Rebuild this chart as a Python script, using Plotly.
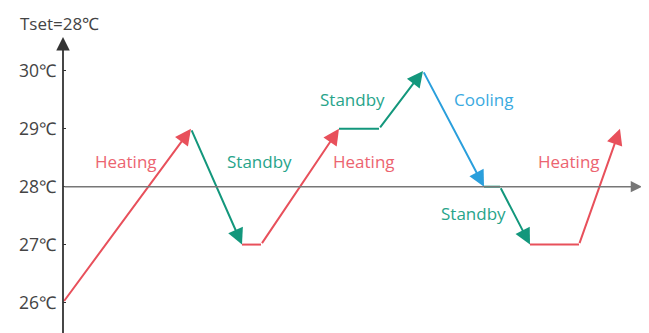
import plotly.graph_objects as go

# time (arbitrary units) and room temperature at each turning point
times = [0, 12.8, 17.9, 19.8, 27.6, 31.6, 36.0, 42.1, 43.7, 46.7, 51.6, 55.7]
temps = [26, 29, 27, 27, 29, 29, 30, 28, 28, 27, 27, 29]
# mode of each segment between consecutive points, and whether it ends in an arrow
modes = ['Heating', 'Standby', 'Heating', 'Heating', 'Standby', 'Standby',
         'Cooling', 'Standby', 'Standby', 'Heating', 'Heating']
has_arrow = [1, 1, 0, 1, 0, 1, 1, 0, 1, 0, 1]

tick_vals = [26, 27, 28, 29, 30]
tick_text = ['26℃', '27℃', '28℃', '29℃', '30℃']
t_set = 28

label_text = ['Heating', 'Standby', 'Heating', 'Standby', 'Cooling', 'Standby', 'Heating']
label_x = [6.3, 19.6, 30.1, 28.9, 42.0, 41.0, 50.6]
label_y = [28.44, 28.44, 28.44, 29.51, 29.51, 27.53, 28.44]

line_col = {'Heating': '#E8505B', 'Standby': '#13977C', 'Cooling': '#2A9FDC'}
text_col = {'Heating': '#EC6470', 'Standby': '#27A48A', 'Cooling': '#3AAADF'}
FONT = 'Open Sans'

fig = go.Figure()
annotations = []

# flat segments as lines, sloped ones as arrows
for i, m in enumerate(modes):
    x0, x1 = times[i], times[i + 1]
    y0, y1 = temps[i], temps[i + 1]
    if has_arrow[i]:
        annotations.append(dict(x=x1, y=y1, ax=x0, ay=y0, xref='x', yref='y',
                                axref='x', ayref='y', showarrow=True, text='',
                                arrowhead=2, arrowsize=1.6, arrowwidth=2,
                                arrowcolor=line_col[m], standoff=0))
    else:
        fig.add_trace(go.Scatter(x=[x0, x1], y=[y0, y1], mode='lines',
                                 line=dict(color=line_col[m], width=2),
                                 hoverinfo='skip', showlegend=False))

# axes drawn as arrows
annotations.append(dict(x=0, y=30.585, ax=0, ay=25.3, xref='x', yref='y',
                        axref='x', ayref='y', showarrow=True, text='',
                        arrowhead=2, arrowsize=1.5, arrowwidth=1.8,
                        arrowcolor='#333333', standoff=0))
annotations.append(dict(x=57.9, y=t_set, ax=0, ay=t_set, xref='x', yref='y',
                        axref='x', ayref='y', showarrow=True, text='',
                        arrowhead=2, arrowsize=1.5, arrowwidth=1.5,
                        arrowcolor='#777777', standoff=0))

for t, x, y in zip(label_text, label_x, label_y):
    annotations.append(dict(x=x, y=y, xref='x', yref='y', text=t, showarrow=False,
                            font=dict(family=FONT, size=17, color=text_col[t])))

# page body has an 8px margin, so the figure is sized to fit the window
annotations.append(dict(x=(10 - 55) / 586, y=1 - 15 / 325, xref='paper', yref='paper',
                        text=f'Tset={t_set}℃', showarrow=False, xanchor='left',
                        yanchor='middle', font=dict(family=FONT, size=17, color='#444444')))

fig.update_layout(
    width=641, height=325,
    margin=dict(l=55, r=0, t=0, b=0),
    plot_bgcolor='white', paper_bgcolor='white',
    annotations=annotations,
    xaxis=dict(range=[0, 58.6], visible=False),
    yaxis=dict(range=[25.473, 31.086], showgrid=False, zeroline=False, showline=False,
               tickvals=tick_vals, ticktext=tick_text, ticks='inside', ticklen=3,
               tickcolor='#333333', ticklabelstandoff=6,
               tickfont=dict(family=FONT, size=17.5, color='#444444')),
)

fig.write_html('out.html')
